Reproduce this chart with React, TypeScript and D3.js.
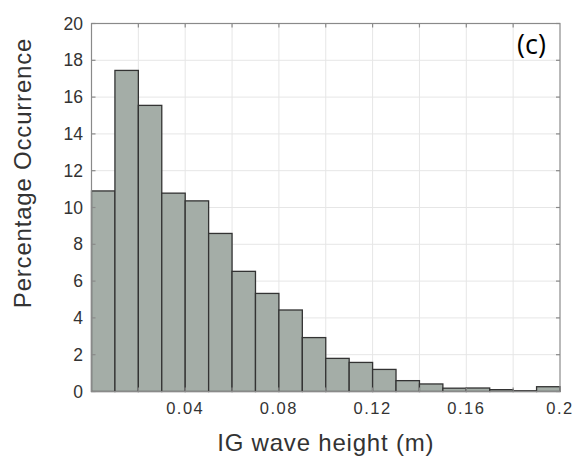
import React from "react";
import * as d3 from "d3";

const binStarts = [0, 0.01, 0.02, 0.03, 0.04, 0.05, 0.06, 0.07, 0.08, 0.09, 0.1, 0.11, 0.12, 0.13, 0.14, 0.15, 0.16, 0.17, 0.18, 0.19];
const percentages = [10.9, 17.45, 15.55, 10.78, 10.36, 8.59, 6.53, 5.33, 4.43, 2.93, 1.8, 1.58, 1.2, 0.59, 0.41, 0.18, 0.19, 0.1, 0.04, 0.26];
const binWidth = 0.01;
const xTickLabels = [0.04, 0.08, 0.12, 0.16, 0.2];
const xGridTicks = [0.02, 0.04, 0.06, 0.08, 0.1, 0.12, 0.14, 0.16, 0.18];
const yTicks = [0, 2, 4, 6, 8, 10, 12, 14, 16, 18, 20];

export default function App() {
  const W = 578, H = 464;
  const left = 91.5, right = 560, top = 23.5, bottom = 391.5;
  const x = d3.scaleLinear().domain([0, 0.2]).range([left, right]);
  const y = d3.scaleLinear().domain([0, 20]).range([bottom, top]);
  const axisColor = "#8a8a8a";
  const textColor = "#333";
  const tick = 4;
  return (
    <svg width={W} height={H} style={{ position: "absolute", left: 0, top: 0 }}>
      <rect width={W} height={H} fill="#fff" />
      {xGridTicks.map((t) => (
        <line key={"gx" + t} x1={x(t)} x2={x(t)} y1={top} y2={bottom} stroke="#e6e6e6" strokeWidth={1} />
      ))}
      {yTicks.slice(1, -1).map((t) => (
        <line key={"gy" + t} x1={left} x2={right} y1={y(t)} y2={y(t)} stroke="#e6e6e6" strokeWidth={1} />
      ))}
      {binStarts.map((b, i) => (
        <rect
          key={"b" + i}
          x={x(b)}
          y={y(percentages[i])}
          width={x(b + binWidth) - x(b)}
          height={y(0) - y(percentages[i])}
          fill="#a4ada7"
          stroke="#333"
          strokeWidth={1.3}
        />
      ))}
      <rect x={left} y={top} width={right - left} height={bottom - top} fill="none" stroke={axisColor} strokeWidth={1.2} />
      {xGridTicks.map((t) => (
        <g key={"tx" + t}>
          <line x1={x(t)} x2={x(t)} y1={top} y2={top + tick} stroke={axisColor} strokeWidth={1.2} />
          <line x1={x(t)} x2={x(t)} y1={bottom} y2={bottom - tick} stroke={axisColor} strokeWidth={1.2} />
        </g>
      ))}
      {yTicks.map((t) => (
        <g key={"ty" + t}>
          <line x1={left} x2={left + tick} y1={y(t)} y2={y(t)} stroke={axisColor} strokeWidth={1.2} />
          <line x1={right} x2={right - tick} y1={y(t)} y2={y(t)} stroke={axisColor} strokeWidth={1.2} />
        </g>
      ))}
      {xTickLabels.map((t) => (
        <text key={"lx" + t} x={x(t)} y={414} textAnchor="middle" fontFamily="Liberation Sans, Arial, sans-serif" fontSize={16.5} letterSpacing={1.5} fill={textColor}>
          {d3.format("")(t)}
        </text>
      ))}
      {yTicks.map((t) => (
        <text key={"ly" + t} x={83} y={y(t) + 6} textAnchor="end" fontFamily="Liberation Sans, Arial, sans-serif" fontSize={17.5} fill={textColor}>
          {t}
        </text>
      ))}
      <text x={(left + right) / 2} y={451} textAnchor="middle" fontFamily="Liberation Sans, Arial, sans-serif" fontSize={24} letterSpacing={0.8} fill={textColor}>
        IG wave height (m)
      </text>
      <text transform={`translate(31,${173}) rotate(-90)`} textAnchor="middle" fontFamily="Liberation Sans, Arial, sans-serif" fontSize={24} letterSpacing={0.8} fill={textColor}>
        Percentage Occurrence
      </text>
      <text x={517} y={54} fontFamily="Open Sans, sans-serif" fontSize={27} fill="#000">
        (c)
      </text>
    </svg>
  );
}
